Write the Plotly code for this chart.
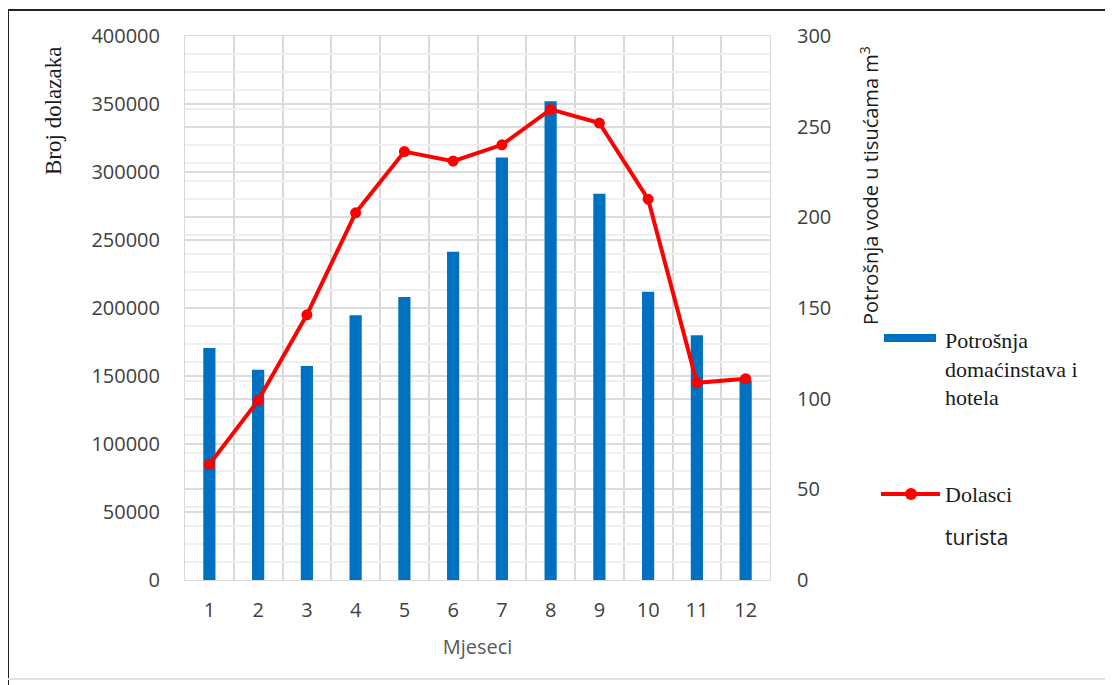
import plotly.graph_objects as go

# podaci (procijenjeni s grafa)
mjeseci = [1, 2, 3, 4, 5, 6, 7, 8, 9, 10, 11, 12]
potrosnja = [128, 116, 118, 146, 156, 181, 233, 264, 213, 159, 135, 110]   # tisuće m3
dolasci = [85000, 132000, 195000, 270000, 315000, 308000, 320000, 346000,
           336000, 280000, 145000, 148000]
lijeve_oznake = [0, 50000, 100000, 150000, 200000, 250000, 300000, 350000, 400000]
desne_oznake = [0, 50, 100, 150, 200, 250, 300]

# stranica ima rub od 8 px, pa je slika pomaknuta
OFF = 8
W, H = 1113 - OFF, 685 - OFF
L, R, T, B = 185, 770, 36, 580   # rub podrucja crtanja na ekranu

def px(x):
    return (x - L) / (R - L)

def py(y):
    return (B - y) / (B - T)

fig = go.Figure()
# stupci - potrosnja vode (desna os)
fig.add_trace(go.Bar(
    x=mjeseci, y=potrosnja, yaxis='y', width=0.25,
    marker=dict(color='#0070C0', line=dict(width=0)),
    name='Potrošnja domaćinstava i hotela', showlegend=False))
# linija - dolasci turista (lijeva os)
fig.add_trace(go.Scatter(
    x=mjeseci, y=dolasci, yaxis='y2', mode='lines+markers',
    line=dict(color='#FF0000', width=4),
    marker=dict(color='#FF0000', size=11),
    name='Dolasci turista', showlegend=False))

tick_font = dict(family='Open Sans', size=20, color='#404040')

fig.update_layout(
    width=W, height=H,
    margin=dict(l=L - OFF, r=W - (R - OFF), t=T - OFF, b=H - (B - OFF)),
    paper_bgcolor='white', plot_bgcolor='white',
    xaxis=dict(range=[0.5, 12.5], tickvals=mjeseci, showgrid=False,
               tickfont=tick_font, ticks='', zeroline=False,
               showline=True, linecolor='#d9d9d9', mirror=True,
               ticklabelstandoff=12,
               minor=dict(tick0=0.5, dtick=1, showgrid=True, gridcolor='#d9d9d9', gridwidth=1.5),
               title=dict(text='Mjeseci', font=dict(family='Open Sans', size=20, color='#595959'),
                          standoff=17)),
    yaxis=dict(side='right', range=[0, 300], tickvals=desne_oznake,
               tickfont=tick_font, showgrid=True, gridcolor='#dcdcdc', gridwidth=1.5,
               minor=dict(dtick=10, showgrid=True, gridcolor='#f0f0f0'),
               zeroline=False, showline=True, linecolor='#d9d9d9',
               ticklabelstandoff=22),
    yaxis2=dict(side='left', overlaying='y', range=[0, 400000], tickvals=lijeve_oznake,
                tickformat='d',
                tickfont=tick_font, showgrid=True, gridcolor='#dcdcdc', gridwidth=1.5,
                zeroline=False, showline=True, linecolor='#d9d9d9',
                ticklabelstandoff=20),
    bargap=0.75,
)

ann = []
ann.append(dict(text='Broj dolazaka', x=px(54), y=py(111), xref='paper', yref='paper',
                xanchor='center', yanchor='middle', textangle=-90, showarrow=False,
                font=dict(family='Liberation Serif', size=23, color='#1a1a1a')))
ann.append(dict(text='Potrošnja vode u tisućama m<sup>3</sup>', x=px(869), y=py(186),
                xref='paper', yref='paper', xanchor='center', yanchor='middle',
                textangle=-90, showarrow=False,
                font=dict(family='Open Sans', size=20, color='#1a1a1a')))
ann.append(dict(text='Potrošnja<br>domaćinstava i<br>hotela', x=px(943), y=py(326),
                xref='paper', yref='paper', xanchor='left', yanchor='top', align='left',
                showarrow=False,
                font=dict(family='Liberation Serif', size=22, color='#1a1a1a')))
ann.append(dict(text='Dolasci', x=px(943), y=py(494), xref='paper', yref='paper',
                xanchor='left', yanchor='middle', showarrow=False,
                font=dict(family='Liberation Serif', size=22, color='#1a1a1a')))
ann.append(dict(text='turista', x=px(943), y=py(537), xref='paper', yref='paper',
                xanchor='left', yanchor='middle', showarrow=False,
                font=dict(family='Open Sans', size=21, color='#1a1a1a')))

shapes = []
# simboli legende
shapes.append(dict(type='rect', xref='paper', yref='paper', x0=px(884), x1=px(936),
                   y0=py(342), y1=py(334), fillcolor='#0070C0', line=dict(width=0)))
shapes.append(dict(type='line', xref='paper', yref='paper', x0=px(881), x1=px(940),
                   y0=py(494), y1=py(494), line=dict(color='#FF0000', width=4)))
shapes.append(dict(type='circle', xref='paper', yref='paper', x0=px(905), x1=px(917),
                   y0=py(500), y1=py(488), fillcolor='#FF0000', line=dict(width=0)))
# okvir slike
shapes.append(dict(type='line', xref='paper', yref='paper', x0=px(8), x1=px(1113),
                   y0=py(10), y1=py(10), line=dict(color='#222222', width=2)))
shapes.append(dict(type='line', xref='paper', yref='paper', x0=px(8), x1=px(8),
                   y0=py(10), y1=py(685), line=dict(color='#222222', width=2)))
shapes.append(dict(type='line', xref='paper', yref='paper', x0=px(8), x1=px(1113),
                   y0=py(679), y1=py(679), line=dict(color='#e0e0e0', width=2)))

fig.update_layout(annotations=ann, shapes=shapes)

fig.write_html("out.html")
